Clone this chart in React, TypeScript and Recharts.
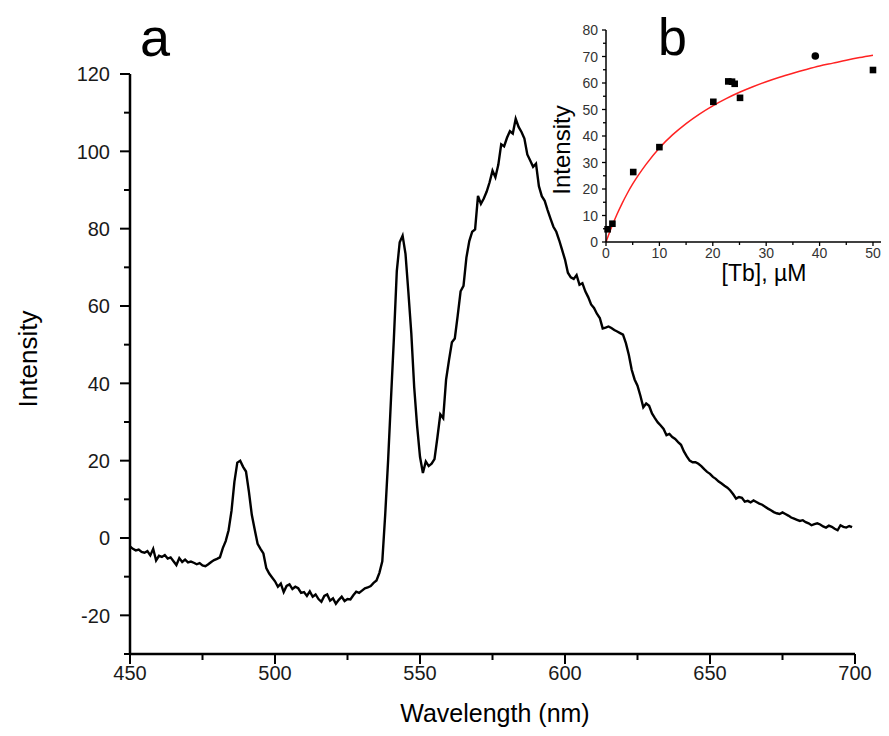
import { LineChart, Line, XAxis, YAxis, ComposedChart, Scatter } from "recharts";

// emission spectrum, 1 nm steps
const intensity450 = [
  -2.2, -2.8, -3.2, -3.0, -3.6, -3.8, -3.4, -4.5, -2.8, -5.8,
  -4.6, -4.9, -4.4, -5.3, -5.0, -6.0, -7.0, -5.2, -6.2, -5.6,
  -6.3, -6.1, -6.4, -6.8, -6.5, -7.1, -7.3, -6.8, -6.2, -5.7,
  -5.4, -5.0, -2.6, -0.8, 2.0, 7.0, 14.5, 19.5, 20.0, 18.4,
  17.2, 12.0, 6.0, 2.2, -1.5, -2.8, -4.0, -7.8, -9.2, -10.2,
];
const intensity500 = [
  -11.2, -12.6, -11.8, -14.0, -12.4, -12.0, -13.2, -12.6, -13.0, -14.2,
  -14.0, -15.0, -13.8, -15.2, -14.6, -15.8, -16.5, -15.0, -14.6, -16.2,
  -15.6, -17.0, -16.0, -15.2, -16.3, -15.8, -15.9, -14.8, -13.9, -14.2,
  -13.6, -13.0, -12.8, -12.4, -11.6, -11.0, -9.0, -6.0, 6.0, 20.0,
  36.0, 51.7, 69.0, 76.5, 78.2, 73.5, 63.5, 53.0, 39.0, 29.0,
];
const intensity550 = [
  21.0, 16.8, 19.8, 18.6, 19.2, 20.4, 26.0, 32.0, 31.0, 41.0,
  46.0, 50.6, 51.6, 57.5, 63.8, 65.2, 72.5, 76.8, 79.2, 79.8,
  88.5, 86.4, 87.8, 89.6, 92.0, 95.0, 93.3, 96.5, 101.8, 101.3,
  103.5, 105.2, 104.6, 108.4, 106.3, 105.0, 103.3, 99.2, 97.6, 96.0,
  96.8, 91.0, 88.4, 87.2, 84.8, 82.6, 80.5, 79.2, 77.0, 74.5,
];
const intensity600 = [
  72.0, 68.6, 67.4, 67.0, 68.0, 65.5, 65.9, 63.8, 62.3, 60.4,
  59.5, 58.0, 56.9, 54.2, 54.4, 54.7, 54.3, 53.8, 53.4, 53.0,
  52.6, 50.4, 47.4, 43.5, 41.0, 39.4, 36.8, 33.8, 34.8, 34.2,
  32.2, 31.0, 29.9, 29.1, 28.2, 26.6, 26.9, 26.1, 25.6, 24.8,
  24.1, 22.4, 21.1, 20.0, 19.6, 19.6, 19.2, 18.6, 17.8, 17.1,
];
const intensity650 = [
  16.6, 15.8, 15.3, 14.6, 14.1, 13.5, 13.0, 12.3, 11.3, 10.2,
  10.6, 10.4, 9.4, 9.6, 9.2, 9.7, 9.3, 8.9, 8.6, 8.1,
  7.6, 7.2, 6.7, 6.4, 6.2, 6.6, 6.2, 5.8, 5.3, 5.0,
  4.7, 4.4, 4.6, 4.1, 3.8, 3.3, 3.6, 3.8, 3.5, 3.0,
  2.7, 3.2, 2.9, 2.4, 2.0, 3.3, 2.9, 2.7, 3.1, 2.8,
];
const startNm = 450;

const xTicks = [450, 475, 500, 525, 550, 575, 600, 625, 650, 675, 700];
const yTicks = [-30, -20, -10, 0, 10, 20, 30, 40, 50, 60, 70, 80, 90, 100, 110, 120];

// inset b: titration points and hyperbolic fit
const tbConc = [0.3, 1.2, 5.1, 10, 20.1, 22.9, 23.6, 24.1, 25.1, 50];
const tbIntensity = [4.8, 6.9, 26.4, 35.8, 52.9, 60.6, 60.5, 59.7, 54.4, 64.9];
const tbCircleConc = [39.2];
const tbCircleIntensity = [70.2];
const fitConc = [0, 1, 2, 3, 4, 5, 7.5, 10, 12.5, 15, 17.5, 20, 22.5, 25, 27.5, 30, 32.5, 35, 37.5, 40, 42.5, 45, 47.5, 50];
const fitIntensity = [0, 5.4, 10.2, 14.5, 18.4, 21.9, 29.3, 35.5, 40.5, 44.7, 48.3, 51.4, 54.1, 56.5, 58.6, 60.5, 62.2, 63.7, 65.1, 66.4, 67.5, 68.6, 69.6, 70.5];
const insetXTicks = [0, 5, 10, 15, 20, 25, 30, 35, 40, 45, 50];
const insetYTicks = [0, 5, 10, 15, 20, 25, 30, 35, 40, 45, 50, 55, 60, 65, 70, 75, 80];

const spectrum = [intensity450, intensity500, intensity550, intensity600, intensity650]
  .flat()
  .map((v, i) => ({ nm: startNm + i, v }));
const points = tbConc.map((c, i) => ({ conc: c, val: tbIntensity[i] }));
const circlePoints = tbCircleConc.map((c, i) => ({ conc: c, val: tbCircleIntensity[i] }));
const fit = fitConc.map((c, i) => ({ conc: c, val: fitIntensity[i] }));

const font = "'Liberation Sans', Arial, sans-serif";
const labelColor = "#1a1a1a";

const MainXTick = (props: any) => {
  const { x, y, payload } = props;
  const major = payload.value % 50 === 0;
  return (
    <g>
      <line x1={x} y1={y} x2={x} y2={y + (major ? 10 : 6)} stroke="#000" strokeWidth={2} />
      {major && (
        <text x={x} y={y + 12} dy="0.71em" textAnchor="middle" fontSize={20} fontFamily={font} fill={labelColor}>
          {payload.value}
        </text>
      )}
    </g>
  );
};

const MainYTick = (props: any) => {
  const { x, y, payload } = props;
  const major = payload.value % 20 === 0;
  return (
    <g>
      <line x1={x} y1={y} x2={x - (major ? 10 : 6)} y2={y} stroke="#000" strokeWidth={2} />
      {major && (
        <text x={x - 20} y={y} dy="0.36em" textAnchor="end" fontSize={20} fontFamily={font} fill={labelColor}>
          {payload.value}
        </text>
      )}
    </g>
  );
};

const InsetXTick = (props: any) => {
  const { x, y, payload } = props;
  const major = payload.value % 10 === 0;
  return (
    <g>
      <line x1={x} y1={y} x2={x} y2={y + (major ? 4 : 3)} stroke="#000" strokeWidth={1.3} />
      {major && (
        <text x={x} y={y + 6} dy="0.71em" textAnchor="middle" fontSize={14} fontFamily={font} fill="#333">
          {payload.value}
        </text>
      )}
    </g>
  );
};

const InsetYTick = (props: any) => {
  const { x, y, payload } = props;
  const major = payload.value % 10 === 0;
  return (
    <g>
      <line x1={x} y1={y} x2={x - (major ? 4 : 3)} y2={y} stroke="#000" strokeWidth={1.3} />
      {major && (
        <text x={x - 8} y={y} dy="0.36em" textAnchor="end" fontSize={14} fontFamily={font} fill="#333">
          {payload.value}
        </text>
      )}
    </g>
  );
};

const squareShape = (p: any) => <rect x={p.cx - 3.3} y={p.cy - 3.3} width={6.6} height={6.6} fill="#000" />;
const circleShape = (p: any) => <circle cx={p.cx} cy={p.cy} r={3.8} fill="#000" />;

export default function App() {
  return (
    <div style={{ position: "relative", width: 873, height: 720, fontFamily: font }}>
      <LineChart width={873} height={720} data={spectrum} margin={{ top: 66, right: 26, bottom: 0, left: 0 }}>
        <XAxis
          dataKey="nm"
          type="number"
          domain={[450, 700]}
          ticks={xTicks}
          interval={0}
          height={74}
          tickSize={0}
          tickMargin={0}
          tickLine={false}
          tick={<MainXTick />}
          axisLine={{ stroke: "#000", strokeWidth: 2.5 }}
        />
        <YAxis
          type="number"
          domain={[-30, 120]}
          ticks={yTicks}
          interval={0}
          width={122}
          tickSize={0}
          tickMargin={0}
          tickLine={false}
          tick={<MainYTick />}
          axisLine={{ stroke: "#000", strokeWidth: 2.5 }}
        />
        <Line type="linear" dataKey="v" stroke="#000" strokeWidth={2.4} dot={false} isAnimationActive={false} />
      </LineChart>

      <div style={{ position: "absolute", left: 530, top: 0 }}>
        <ComposedChart width={351} height={290} data={fit} margin={{ top: 22, right: 0, bottom: 0, left: 0 }}>
          <XAxis
            dataKey="conc"
            type="number"
            domain={[0, 53]}
            ticks={insetXTicks}
            interval={0}
            height={56}
            tickSize={0}
            tickMargin={0}
            tickLine={false}
            tick={<InsetXTick />}
            axisLine={{ stroke: "#000", strokeWidth: 1.5 }}
          />
          <YAxis
            type="number"
            domain={[0, 80]}
            ticks={insetYTicks}
            interval={0}
            width={68}
            tickSize={0}
            tickMargin={0}
            tickLine={false}
            tick={<InsetYTick />}
            axisLine={{ stroke: "#000", strokeWidth: 1.5 }}
          />
          <Line type="monotone" dataKey="val" stroke="#ff2222" strokeWidth={1.5} dot={false} isAnimationActive={false} />
          <Scatter data={points} dataKey="val" shape={squareShape} isAnimationActive={false} />
          <Scatter data={circlePoints} dataKey="val" shape={circleShape} isAnimationActive={false} />
        </ComposedChart>
      </div>

      <svg width={873} height={720} style={{ position: "absolute", left: 0, top: 0, pointerEvents: "none" }}>
        <text x={132} y={48} fontSize={54} fontFamily={font} fill="#000">a</text>
        <text x={650} y={47} fontSize={52} fontFamily={font} fill="#000">b</text>
        <text transform="translate(29 351) rotate(-90)" textAnchor="middle" fontSize={26} fontFamily={font} fill="#000">
          Intensity
        </text>
        <text x={487} y={714} textAnchor="middle" fontSize={25} fontFamily={font} fill="#000">
          Wavelength (nm)
        </text>
        <text transform="translate(562 142) rotate(-90)" textAnchor="middle" fontSize={24} fontFamily={font} fill="#000">
          Intensity
        </text>
        <text x={756} y={273} textAnchor="middle" fontSize={23} fontFamily={font} fill="#000">
          [Tb], µM
        </text>
      </svg>
    </div>
  );
}
